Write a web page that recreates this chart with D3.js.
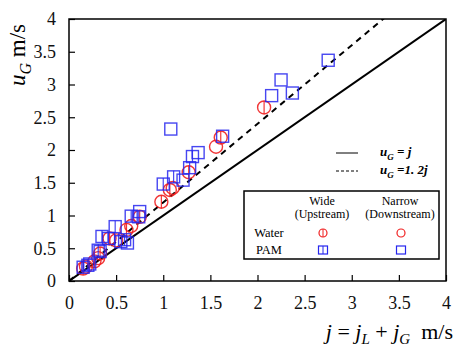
<!DOCTYPE html>
<html>
<head>
<meta charset="utf-8">
<script src="https://cdn.jsdelivr.net/npm/d3@7"></script>
<style>
  body { margin: 0; background: #fff; }
  svg text { font-family: "Liberation Serif", "Times New Roman", serif; }
</style>
</head>
<body>
<div id="chart"></div>
<script>
// data: [j, uG] in m/s
const wideWater = [[0.15, 0.19], [0.27, 0.30], [0.33, 0.42], [0.43, 0.65], [0.61, 0.78], [0.75, 0.98],
  [0.98, 1.21], [1.07, 1.39], [1.27, 1.66], [1.61, 2.19], [2.07, 2.65]];
const narrowWater = [[0.18, 0.22], [0.31, 0.35], [0.50, 0.62], [0.66, 0.84], [1.10, 1.42], [1.56, 2.05]];
const widePam = [[0.15, 0.21], [0.20, 0.24], [0.31, 0.47], [0.35, 0.68], [0.42, 0.65], [0.49, 0.83],
  [0.59, 0.63], [0.66, 0.99], [0.74, 0.98], [1.00, 1.48], [1.11, 1.59], [1.28, 1.73], [1.31, 1.90]];
const narrowPam = [[0.22, 0.26], [0.33, 0.45], [0.55, 0.60], [0.62, 0.58], [0.75, 1.06], [1.08, 2.32],
  [1.21, 1.54], [1.37, 1.96], [1.63, 2.21], [2.15, 2.83], [2.25, 3.07], [2.37, 2.87], [2.75, 3.37]];
const ticks = [0, 0.5, 1, 1.5, 2, 2.5, 3, 3.5, 4];
const lineFactors = [1, 1.2];

const width = 465, height = 350;
const red = "#f02020", blue = "#2626ee";
const serif = "'Liberation Serif', 'Times New Roman', serif";

const svg = d3.select("#chart").append("svg")
  .attr("width", width).attr("height", height)
  .attr("font-family", serif);

const x = d3.scaleLinear().domain([0, 4]).range([69, 446]);
const y = d3.scaleLinear().domain([0, 4]).range([281, 19]);

// clip for lines
svg.append("clipPath").attr("id", "clip")
  .append("rect").attr("x", 69).attr("y", 19).attr("width", 377).attr("height", 262);

// axes with inward ticks
const xAxis = svg.append("g")
  .attr("transform", `translate(0,${y(0)})`)
  .call(d3.axisBottom(x).tickValues(ticks).tickSizeInner(-6).tickSizeOuter(0)
    .tickFormat(d3.format("")).tickPadding(13));
const yAxis = svg.append("g")
  .attr("transform", `translate(${x(0)},0)`)
  .call(d3.axisLeft(y).tickValues(ticks).tickSizeInner(-6).tickSizeOuter(0)
    .tickFormat(d3.format("")).tickPadding(13));
[xAxis, yAxis].forEach(g => {
  g.attr("font-family", serif).attr("font-size", 18);
  g.select(".domain").remove();
  g.selectAll("line").attr("stroke", "#000").attr("stroke-width", 1.2);
  g.selectAll("text").attr("fill", "#111");
});
xAxis.selectAll("text").attr("dy", "0.85em");

// frame
svg.append("rect")
  .attr("x", x(0)).attr("y", y(4))
  .attr("width", x(4) - x(0)).attr("height", y(0) - y(4))
  .attr("fill", "none").attr("stroke", "#000").attr("stroke-width", 1.5);

// reference lines uG = j and uG = 1.2j
svg.append("g").attr("clip-path", "url(#clip)")
  .selectAll("line").data(lineFactors).join("line")
  .attr("x1", x(0)).attr("y1", y(0))
  .attr("x2", d => x(4)).attr("y2", d => y(4 * d))
  .attr("stroke", "#000").attr("stroke-width", 2)
  .attr("stroke-dasharray", d => d === 1 ? null : "6,5");

// markers
function drawCircles(data, bar, r) {
  const g = svg.append("g").selectAll("g").data(data).join("g")
    .attr("transform", d => `translate(${x(d[0])},${y(d[1])})`);
  g.append("circle").attr("r", r)
    .attr("fill", "none").attr("stroke", red).attr("stroke-width", 1.4).attr("stroke-opacity", 0.9);
  if (bar) g.append("line").attr("y1", -r).attr("y2", r)
    .attr("stroke", red).attr("stroke-width", 1.2).attr("stroke-opacity", 0.9);
}
function drawSquares(data, bar, s) {
  const g = svg.append("g").selectAll("g").data(data).join("g")
    .attr("transform", d => `translate(${x(d[0])},${y(d[1])})`);
  g.append("rect").attr("x", -s / 2).attr("y", -s / 2).attr("width", s).attr("height", s)
    .attr("fill", "none").attr("stroke", blue).attr("stroke-width", 1.4).attr("stroke-opacity", 0.85);
  if (bar) g.append("line").attr("y1", -s / 2).attr("y2", s / 2)
    .attr("stroke", blue).attr("stroke-width", 1.2).attr("stroke-opacity", 0.85);
}
drawCircles(wideWater, true, 6.5);
drawCircles(narrowWater, false, 6.5);
drawSquares(widePam, true, 12);
drawSquares(narrowPam, false, 12);

// line legend
const lineLegend = [
  { y: 153, dash: null, lbl: " = j" },
  { y: 171, dash: "3,2", lbl: " =1. 2j" }
];
lineLegend.forEach(d => {
  svg.append("line").attr("x1", 336).attr("x2", 358).attr("y1", d.y).attr("y2", d.y)
    .attr("stroke", "#000").attr("stroke-width", 1).attr("stroke-dasharray", d.dash);
  const t = svg.append("text").attr("x", 380).attr("y", d.y + 3)
    .attr("font-size", 13).attr("font-weight", "bold").attr("font-style", "italic");
  t.append("tspan").text("u");
  t.append("tspan").attr("dy", 4).attr("font-size", 9).text("G");
  t.append("tspan").attr("dy", -4).text(d.lbl);
});

// marker legend box
svg.append("rect").attr("x", 244).attr("y", 191).attr("width", 195).attr("height", 68)
  .attr("fill", "#fff").attr("stroke", "#000").attr("stroke-width", 1.5);
const hdr = [["Wide", "(Upstream)", 322], ["Narrow", "(Downstream)", 400]];
hdr.forEach(h => {
  svg.append("text").attr("x", h[2]).attr("y", 205).attr("text-anchor", "middle")
    .attr("font-size", 12).text(h[0]);
  svg.append("text").attr("x", h[2]).attr("y", 218).attr("text-anchor", "middle")
    .attr("font-size", 12).text(h[1]);
});
svg.append("text").attr("x", 269).attr("y", 237).attr("text-anchor", "middle").attr("font-size", 12.5).text("Water");
svg.append("text").attr("x", 269).attr("y", 254).attr("text-anchor", "middle").attr("font-size", 12.5).text("PAM");
const lg = svg.append("g");
[[323, true], [401, false]].forEach(([cx, bar]) => {
  lg.append("circle").attr("cx", cx).attr("cy", 233).attr("r", 4)
    .attr("fill", "none").attr("stroke", red).attr("stroke-width", 1.2);
  if (bar) lg.append("line").attr("x1", cx).attr("x2", cx).attr("y1", 229).attr("y2", 237)
    .attr("stroke", red).attr("stroke-width", 1);
  lg.append("rect").attr("x", cx - 4.5).attr("y", 246).attr("width", 9).attr("height", 8)
    .attr("fill", "none").attr("stroke", blue).attr("stroke-width", 1.2);
  if (bar) lg.append("line").attr("x1", cx).attr("x2", cx).attr("y1", 246).attr("y2", 254)
    .attr("stroke", blue).attr("stroke-width", 1);
});

// axis titles
const xt = svg.append("text").attr("x", 453).attr("y", 339).attr("text-anchor", "end")
  .attr("font-size", 22);
xt.append("tspan").attr("font-style", "italic").text("j");
xt.append("tspan").text(" = ");
xt.append("tspan").attr("font-style", "italic").text("j");
xt.append("tspan").attr("dy", 5).attr("font-size", 15).attr("font-style", "italic").text("L");
xt.append("tspan").attr("dy", -5).text(" + ");
xt.append("tspan").attr("font-style", "italic").text("j");
xt.append("tspan").attr("dy", 5).attr("font-size", 15).attr("font-style", "italic").text("G");
xt.append("tspan").attr("dy", -5).text("\u00a0\u00a0m/s");

const yt = svg.append("text").attr("transform", "translate(25,55) rotate(-90)")
  .attr("text-anchor", "middle").attr("font-size", 23);
yt.append("tspan").attr("font-style", "italic").text("u");
yt.append("tspan").attr("dy", 6).attr("font-size", 16).attr("font-style", "italic").text("G");
yt.append("tspan").attr("dy", -6).text("\u00a0m/s");
</script>
</body>
</html>
